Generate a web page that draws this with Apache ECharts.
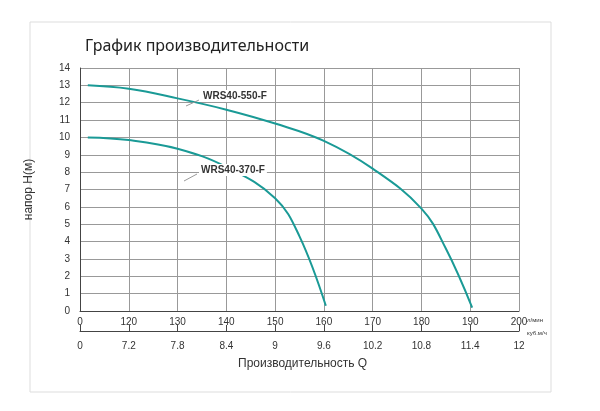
<!DOCTYPE html><html><head><meta charset="utf-8"><script src="https://cdn.jsdelivr.net/npm/echarts@6/dist/echarts.min.js"></script>
<style>body{margin:0}#c{width:600px;height:411px}</style></head><body><div id="c"></div><script>
const flowLmin=['0','120','130','140','150','160','170','180','190','200'];
const flowM3h=['0','7.2','7.8','8.4','9','9.6','10.2','10.8','11.4','12'];
const s550=[[111.6,13],[120,12.8],[130,12.25],[140,11.6],[150,10.8],[160,9.8],[170,8.2],[180,5.9],[185,3.6],[190.4,0.2]];
const s370=[[111.6,10],[120,9.85],[130,9.35],[140,8.3],[150,6.5],[155,4.3],[160.4,0.3]];
const ch=echarts.init(document.getElementById('c'));
const lbl=(arr)=>v=>{const i=Math.round((v-110)/10);return arr[i]??''};
const txt={color:'#333',fontSize:10,fontFamily:'Liberation Sans'};
ch.setOption({animation:false,
grid:{left:80,right:81,top:68,bottom:100},
graphic:[
{type:'rect',shape:{x:30,y:22,width:521,height:370},style:{fill:'none',stroke:'#ddd',lineWidth:1}},
{type:'text',left:85,top:38,style:{text:'График производительности',fontSize:16,fill:'#222',fontFamily:'Noto Sans'}},
{type:'text',left:238,top:358,style:{text:'Производительность Q',fontSize:12,fill:'#333',fontFamily:'Liberation Sans'}},
{type:'text',left:527,top:317,style:{text:'л/мин',fontSize:6,fill:'#333'}},
{type:'text',left:527,top:330,style:{text:'куб.м/ч',fontSize:6,fill:'#333'}},
{type:'text',left:201,top:90,z:10,style:{text:'WRS40-550-F',fontSize:10,fontWeight:'bold',fill:'#333',fontFamily:'Liberation Sans',backgroundColor:'#fff',padding:[1,2]}},
{type:'line',z:10,shape:{x1:199,y1:100,x2:186,y2:106},style:{stroke:'#999'}},
{type:'text',left:199,top:164,z:10,style:{text:'WRS40-370-F',fontSize:10,fontWeight:'bold',fill:'#333',fontFamily:'Liberation Sans',backgroundColor:'#fff',padding:[1,2]}},
{type:'line',z:10,shape:{x1:197,y1:174,x2:184,y2:181},style:{stroke:'#999'}}
],
xAxis:[
{type:'value',min:110,max:200,interval:10,position:'bottom',axisLine:{lineStyle:{color:'#444'}},axisTick:{show:false},splitLine:{lineStyle:{color:'#999'}},axisLabel:{...txt,formatter:lbl(flowLmin),margin:6}},
{type:'value',min:110,max:200,interval:10,position:'bottom',offset:20,axisLine:{show:true,lineStyle:{color:'#444'}},axisTick:{show:true,inside:true,length:6,lineStyle:{color:'#444'}},splitLine:{show:false},axisLabel:{...txt,formatter:lbl(flowM3h),margin:10}}
],
yAxis:{type:'value',min:0,max:14,interval:1,name:'напор H(м)',nameLocation:'middle',nameGap:45,nameTextStyle:{color:'#333',fontSize:12,fontFamily:'Liberation Sans'},axisLine:{show:true,lineStyle:{color:'#444'}},axisTick:{show:false},splitLine:{lineStyle:{color:'#999'}},axisLabel:{...txt,margin:10}},
series:[
{type:'line',data:s550,smooth:0.4,symbol:'none',lineStyle:{color:'#1a9a96',width:2}},
{type:'line',data:s370,smooth:0.4,symbol:'none',lineStyle:{color:'#1a9a96',width:2}}
]});
</script></body></html>
